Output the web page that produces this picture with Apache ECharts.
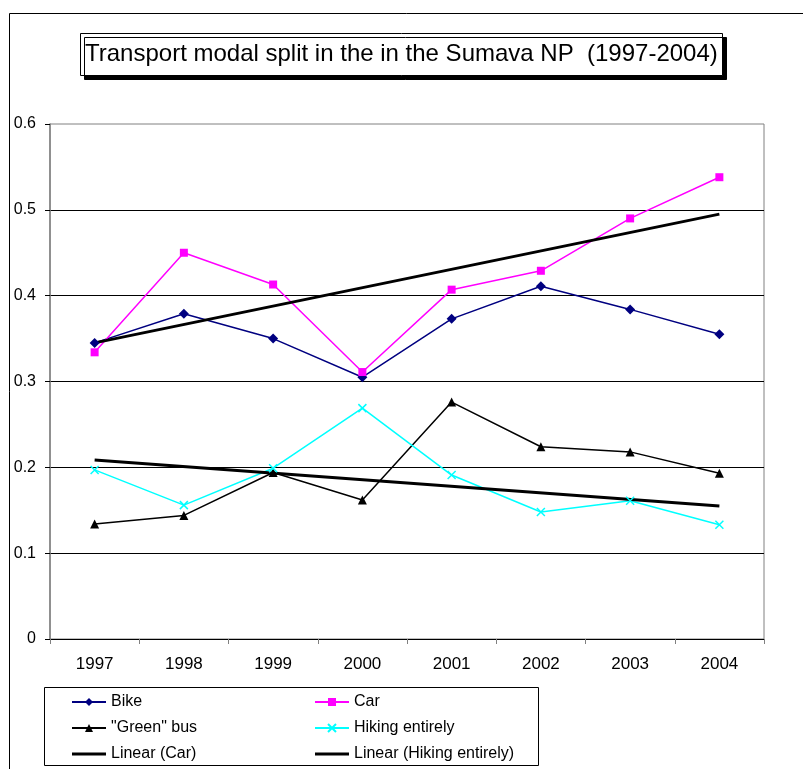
<!DOCTYPE html>
<html>
<head>
<meta charset="utf-8">
<script src="https://cdn.jsdelivr.net/npm/echarts@6/dist/echarts.min.js"></script>
<style>
  html, body { margin: 0; padding: 0; background: #fff; }
  #chart { width: 803px; height: 769px; }
</style>
</head>
<body>
<div id="chart"></div>
<script>
// 年份（类目轴）
const years = ['1997', '1998', '1999', '2000', '2001', '2002', '2003', '2004']
// 各交通方式占比
const bike = [0.345, 0.379, 0.350, 0.305, 0.373, 0.411, 0.384, 0.355]
const car = [0.334, 0.450, 0.413, 0.311, 0.407, 0.429, 0.490, 0.538]
const greenBus = [0.134, 0.144, 0.194, 0.162, 0.276, 0.224, 0.218, 0.193]
const hiking = [0.197, 0.156, 0.199, 0.269, 0.191, 0.148, 0.161, 0.133]
// 趋势线（只读两端的值）
const linearCar = [0.345, null, null, null, null, null, null, 0.495]
const linearHiking = [0.2085, null, null, null, null, null, null, 0.155]

const font = 'Arial, "Liberation Sans", sans-serif'
const crossPath = 'path://M0,0L10,10M10,0L0,10'
// 趋势线图例只画一条粗线
const lineIcon = 'path://M0,0L34,0L34,3L0,3Z'

const mChart = echarts.init(document.getElementById('chart'))

const legendText = { fontFamily: font, fontSize: 16, color: '#000', lineHeight: 16 }

const options = {
  animation: false,
  backgroundColor: '#fff',
  title: {
    text: 'Transport modal split in the in the Sumava NP  (1997-2004)',
    left: 80,
    top: 33,
    padding: [9, 5, 10, 5],
    backgroundColor: '#fff',
    borderColor: '#000',
    borderWidth: 1,
    shadowColor: '#000',
    shadowBlur: 0,
    shadowOffsetX: 4,
    shadowOffsetY: 4,
    textStyle: {
      fontFamily: font,
      fontSize: 24,
      fontWeight: 'normal',
      color: '#000'
    }
  },
  // 外框和图例框
  graphic: [
    {
      type: 'rect',
      shape: { x: 9.5, y: 13.5, width: 820, height: 800 },
      style: { fill: 'none', stroke: '#000', lineWidth: 1 },
      z: -1
    },
    {
      type: 'rect',
      shape: { x: 44.5, y: 687.5, width: 494, height: 78 },
      style: { fill: '#fff', stroke: '#000', lineWidth: 1 },
      z: 0
    }
  ],
  legend: [
    {
      data: ['Bike', '"Green" bus', { name: 'Linear (Car)', icon: lineIcon }],
      orient: 'vertical',
      left: 66,
      top: 689,
      itemWidth: 34,
      itemHeight: 10,
      itemGap: 10,
      textStyle: legendText
    },
    {
      data: ['Car', 'Hiking entirely', { name: 'Linear (Hiking entirely)', icon: lineIcon }],
      orient: 'vertical',
      left: 309,
      top: 689,
      itemWidth: 34,
      itemHeight: 10,
      itemGap: 10,
      textStyle: legendText
    }
  ],
  grid: {
    left: 50,
    right: 39,
    top: 124,
    bottom: 130,
    show: true,
    borderColor: '#808080',
    borderWidth: 1
  },
  xAxis: {
    type: 'category',
    data: years,
    boundaryGap: true,
    axisLine: { lineStyle: { color: '#000', width: 1 } },
    axisTick: { show: true, length: 5, lineStyle: { color: '#808080' } },
    axisLabel: { fontFamily: font, fontSize: 17, color: '#000', margin: 17 }
  },
  yAxis: {
    type: 'value',
    min: 0,
    max: 0.6,
    interval: 0.1,
    axisLine: { show: true, lineStyle: { color: '#808080', width: 1.5 } },
    axisTick: { show: true, length: 5, lineStyle: { color: '#000' } },
    axisLabel: {
      fontFamily: font,
      fontSize: 16,
      color: '#000',
      margin: 14,
      formatter: (v) => (v === 0 ? '0' : v.toFixed(1))
    },
    splitLine: { show: true, showMaxLine: false, lineStyle: { color: '#000', width: 1 } }
  },
  series: [
    {
      name: 'Bike',
      type: 'line',
      data: bike,
      symbol: 'diamond',
      symbolSize: 10,
      color: '#000080',
      lineStyle: { width: 1.5, color: '#000080' }
    },
    {
      name: 'Car',
      type: 'line',
      data: car,
      symbol: 'rect',
      symbolSize: 8,
      color: '#FF00FF',
      lineStyle: { width: 1.5, color: '#FF00FF' }
    },
    {
      name: '"Green" bus',
      type: 'line',
      data: greenBus,
      symbol: 'triangle',
      symbolSize: 9,
      color: '#000',
      lineStyle: { width: 1.5, color: '#000' }
    },
    {
      name: 'Hiking entirely',
      type: 'line',
      data: hiking,
      symbol: crossPath,
      symbolSize: 8,
      color: '#00FFFF',
      itemStyle: { color: '#00FFFF', borderColor: '#00FFFF', borderWidth: 1.5 },
      lineStyle: { width: 1.5, color: '#00FFFF' }
    },
    {
      name: 'Linear (Car)',
      type: 'line',
      data: linearCar,
      connectNulls: true,
      symbol: 'none',
      color: '#000',
      lineStyle: { width: 3, color: '#000' },
      z: 3
    },
    {
      name: 'Linear (Hiking entirely)',
      type: 'line',
      data: linearHiking,
      connectNulls: true,
      symbol: 'none',
      color: '#000',
      lineStyle: { width: 3, color: '#000' },
      z: 3
    }
  ]
}
mChart.setOption(options)
</script>
</body>
</html>
